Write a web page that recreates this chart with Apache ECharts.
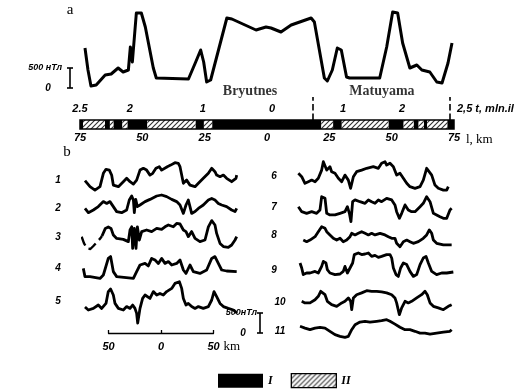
<!DOCTYPE html>
<html>
<head>
<meta charset="utf-8">
<script src="https://cdn.jsdelivr.net/npm/echarts@6/dist/echarts.min.js"></script>
<style>
  html, body { margin: 0; padding: 0; background: #fff; }
  #chart { width: 527px; height: 391px; }
</style>
</head>
<body>
<div id="chart"></div>
<script>
// ---- data (km along profile, anomaly in nT) ----
const profileA = [[-73.0,1000],[-71.8,450],[-70.6,50],[-68.5,75],[-64.9,325],[-62.5,350],[-59.7,500],[-57.7,400],[-55.6,450],[-54.8,1025],[-54.0,650],[-52.4,1875],[-50.4,1875],[-48.8,1525],[-45.6,500],[-44.4,250],[-31.5,225],[-28.6,650],[-26.6,950],[-25.4,650],[-24.2,150],[-22.6,200],[-16.1,1750],[-14.1,1725],[-4.4,1450],[-0.4,1525],[1.6,1500],[5.6,1400],[9.7,1575],[17.7,1750],[19.0,1650],[23.0,250],[24.2,175],[26.2,450],[28.2,1000],[29.8,950],[31.9,275],[33.1,250],[45.2,250],[48.0,1025],[50.4,1900],[52.4,1875],[54.4,1125],[57.3,500],[60.1,575],[62.1,450],[65.3,400],[68.1,150],[70.2,125],[72.6,625],[74.2,1125]];

const profile1 = [[-72.4,275],[-67.6,125],[-62.9,40],[-58.1,125],[-54.9,460],[-52.4,560],[-49.2,540],[-47.0,415],[-45.4,165],[-40.6,125],[-35.9,250],[-32.7,335],[-29.5,250],[-26.3,190],[-23.2,290],[-20.0,540],[-16.8,585],[-13.7,540],[-10.5,415],[-7.9,460],[-4.8,585],[-1.6,625],[0.6,540],[2.2,585],[6.0,625],[9.2,665],[13.3,725],[16.5,710],[18.1,625],[21.3,210],[24.4,290],[27.6,165],[32.4,125],[35.6,210],[40.3,335],[45.1,460],[48.3,585],[51.4,500],[53.0,415],[56.2,375],[59.4,415],[62.5,335],[67.3,250],[71.4,335],[72.1,415]];
const profile2 = [[-72.4,165],[-69.2,58],[-64.4,125],[-59.7,210],[-54.9,335],[-51.7,290],[-48.6,335],[-45.4,210],[-42.2,85],[-37.5,58],[-32.7,125],[-30.2,375],[-27.9,475],[-26.3,375],[-25.4,58],[-24.1,390],[-22.5,210],[-20.0,250],[-15.2,335],[-10.5,390],[-4.1,475],[0.6,500],[5.4,460],[10.2,390],[14.9,335],[18.1,250],[21.3,40],[23.8,250],[26.0,375],[27.6,210],[29.2,40],[32.4,85],[35.6,165],[40.3,250],[45.1,375],[48.3,415],[51.4,375],[54.6,290],[57.8,250],[62.5,210],[67.3,125],[70.5,85],[72.1,165]];
const profile3Dashed = [[-75.6,333],[-73.3,166],[-70.5,42],[-67.3,25],[-64.4,100],[-61.3,190],[-57.8,290],[-56.2,350]];
const profile3 = [[-56.2,350],[-53.0,540],[-50.2,575],[-47.6,540],[-45.4,375],[-42.2,290],[-35.9,265],[-31.1,210],[-29.5,500],[-27.9,580],[-27.0,40],[-25.4,540],[-23.8,40],[-22.5,580],[-20.6,250],[-18.4,460],[-13.7,500],[-8.9,460],[-4.1,540],[0.6,515],[3.8,580],[7.0,625],[11.7,580],[14.9,665],[18.1,650],[21.3,500],[23.8,460],[26.0,335],[29.2,460],[32.4,290],[37.1,210],[41.9,250],[45.1,580],[48.3,735],[51.4,625],[53.0,415],[56.2,165],[59.4,85],[64.1,65],[67.3,125],[70.5,250],[72.1,333]];
const profile4 = [[-74.0,290],[-72.4,85],[-67.6,85],[-58.1,40],[-54.9,125],[-50.2,540],[-48.0,585],[-45.4,210],[-42.2,85],[-26.3,40],[-23.2,210],[-20.0,375],[-15.2,415],[-12.1,350],[-8.9,540],[-5.7,500],[-2.5,415],[0.6,540],[3.8,415],[7.0,460],[10.2,375],[14.9,415],[18.1,500],[19.7,460],[21.3,250],[23.8,165],[27.6,375],[30.8,210],[37.1,165],[43.5,250],[48.3,540],[51.4,585],[54.6,415],[57.8,250],[62.5,225],[72.1,210]];
const profile5 = [[-72.4,450],[-69.2,375],[-64.4,415],[-59.7,500],[-56.5,415],[-52.4,540],[-50.2,835],[-48.0,900],[-45.4,750],[-43.8,540],[-40.6,415],[-35.9,375],[-32.7,460],[-29.5,415],[-27.0,500],[-24.8,415],[-23.2,290],[-22.2,50],[-20.0,415],[-17.5,665],[-15.2,750],[-10.5,665],[-7.3,835],[-4.1,750],[-1.0,790],[2.2,750],[5.4,835],[10.2,915],[13.3,1040],[17.5,1080],[19.7,915],[21.3,665],[23.8,500],[26.0,540],[29.2,460],[32.4,415],[35.6,460],[40.3,415],[45.1,460],[48.3,625],[50.5,835],[53.0,710],[56.2,540],[59.4,460],[64.1,415],[68.9,375],[72.4,300]];
const profile6 = [[-73.0,460],[-69.8,375],[-66.7,210],[-63.5,250],[-60.3,290],[-57.1,250],[-54.0,335],[-50.8,540],[-49.2,750],[-47.6,710],[-46.0,540],[-42.9,625],[-41.3,500],[-38.1,460],[-34.9,335],[-31.7,250],[-28.6,415],[-27.0,460],[-25.4,290],[-23.2,85],[-20.6,375],[-17.5,500],[-12.7,540],[-7.9,585],[-1.6,625],[3.2,585],[6.3,710],[9.5,750],[11.1,665],[14.3,710],[17.5,625],[20.6,415],[23.8,460],[27.0,335],[30.2,210],[33.3,125],[38.1,85],[42.9,125],[46.0,290],[49.2,585],[50.8,625],[54.0,415],[57.1,165],[60.3,85],[65.1,40],[68.3,40],[69.8,125]];
const profile7 = [[-73.0,415],[-69.8,290],[-65.1,250],[-60.3,290],[-55.6,250],[-52.4,335],[-50.8,665],[-49.2,710],[-47.6,625],[-46.0,250],[-42.9,210],[-38.1,210],[-33.3,250],[-28.6,290],[-26.3,415],[-24.4,250],[-22.9,40],[-21.3,540],[-19.0,585],[-14.3,540],[-9.5,500],[-6.3,585],[-3.2,540],[0.0,500],[3.2,585],[6.3,540],[11.1,625],[15.9,585],[19.0,460],[20.6,290],[23.2,125],[25.4,250],[28.6,460],[31.7,335],[34.9,290],[38.1,290],[42.9,415],[46.0,500],[49.2,665],[50.8,710],[52.4,540],[55.6,250],[58.7,210],[61.9,165],[65.1,125],[68.3,125],[71.4,335],[73.0,375]];
const profile8 = [[-68.3,180],[-65.1,140],[-61.9,180],[-57.1,265],[-54.0,390],[-50.8,515],[-49.2,560],[-47.6,475],[-46.0,390],[-42.9,310],[-39.7,225],[-36.5,180],[-33.3,225],[-30.2,140],[-27.0,180],[-23.8,265],[-22.2,350],[-19.0,310],[-15.9,350],[-12.7,390],[-9.5,350],[-6.3,310],[-3.2,350],[0.0,310],[4.8,350],[9.5,310],[12.7,265],[15.9,225],[19.0,225],[20.6,100],[23.8,15],[27.0,140],[30.2,180],[33.3,140],[36.5,100],[41.3,140],[46.0,225],[49.2,310],[51.7,435],[54.0,350],[55.6,180],[58.7,100],[65.1,60],[71.4,60],[73.0,60]];
const profile9 = [[-71.4,375],[-69.8,250],[-68.3,85],[-65.1,125],[-61.9,125],[-57.1,165],[-54.0,125],[-50.8,290],[-49.2,415],[-46.7,375],[-45.4,210],[-42.9,125],[-38.1,85],[-33.3,100],[-30.2,165],[-28.6,290],[-26.3,125],[-23.8,250],[-21.3,375],[-19.7,585],[-15.9,625],[-12.7,585],[-9.5,600],[-6.3,625],[-3.2,540],[0.0,565],[3.2,515],[6.3,540],[11.1,585],[14.3,585],[15.9,500],[17.5,250],[20.0,85],[22.2,40],[24.4,250],[27.0,375],[30.2,335],[33.3,165],[36.5,40],[39.7,85],[42.9,335],[46.0,500],[48.6,540],[50.8,375],[54.0,165],[58.7,85],[63.5,125],[68.3,125],[74.6,150]];
const profile10 = [[-69.8,375],[-66.7,335],[-61.9,335],[-57.1,415],[-54.0,500],[-51.7,625],[-49.8,665],[-47.6,540],[-45.4,375],[-41.3,290],[-36.5,250],[-31.7,335],[-28.6,375],[-25.4,460],[-23.2,375],[-22.2,165],[-20.6,460],[-17.5,540],[-12.7,585],[-7.9,640],[-3.2,625],[1.6,625],[6.3,610],[11.1,585],[15.9,540],[19.0,460],[20.6,335],[23.2,40],[25.4,210],[28.6,375],[31.7,335],[34.9,375],[39.7,460],[44.4,540],[47.6,625],[49.8,540],[52.4,335],[55.6,250],[60.3,210],[65.1,165],[69.8,250],[73.0,290]];
const profile11 = [[-71.4,335],[-66.7,290],[-61.9,250],[-57.1,290],[-52.4,310],[-47.6,290],[-42.9,210],[-38.1,125],[-33.3,85],[-28.6,60],[-25.4,85],[-22.2,250],[-19.0,375],[-14.3,440],[-9.5,460],[-4.8,440],[1.6,460],[6.3,475],[11.1,500],[14.3,460],[19.0,390],[23.8,310],[28.6,250],[33.3,250],[38.1,210],[42.9,165],[47.6,165],[52.4,140],[58.7,165],[65.1,190],[71.4,210],[73.0,250]];

// polarity blocks along the profile, km
const normalBlocks = [[-75,-73.8],[-65,-63],[-61.6,-58],[-56,-48],[-28.7,-25.3],[-22,21.8],[26.5,30],[48.7,54.8],[58.8,60.8],[62.9,64.2],[72.3,75]];
const reversedBlocks = [[-73.8,-65],[-63,-61.6],[-58,-56],[-48,-28.7],[-25.3,-22],[21.8,26.5],[30,48.7],[54.8,58.8],[60.8,62.9],[64.2,72.3]];

// age scale (Ma) positioned on the km axis
const ageTickKm = [-75, -55, -25.7, 2, 30.5, 54.2];
const ageTickLabels = ['2.5', '2', '1', '0', '1', '2'];
const epochs = [{ name: 'Bryutnes', km: -6.8 }, { name: 'Matuyama', km: 46.1 }];
const boundaryKm = [18.4, 73.4];

// ---- layout ----
const rows = [
  { label: '1', data: profile1, col: 0, base: 191.7, labelY: 180 },
  { label: '2', data: profile2, col: 0, base: 215, labelY: 208 },
  { label: '3', data: profile3, dashed: profile3Dashed, col: 0, base: 250, labelY: 237 },
  { label: '4', data: profile4, col: 0, base: 280, labelY: 268 },
  { label: '5', data: profile5, col: 0, base: 325, labelY: 301 },
  { label: '6', data: profile6, col: 1, base: 191.7, labelY: 176 },
  { label: '7', data: profile7, col: 1, base: 223.3, labelY: 207 },
  { label: '8', data: profile8, col: 1, base: 247.3, labelY: 235 },
  { label: '9', data: profile9, col: 1, base: 278, labelY: 270 },
  { label: '10', data: profile10, col: 1, base: 316.3, labelY: 302 },
  { label: '11', data: profile11, col: 1, base: 339.7, labelY: 331 }
];
const colLeft = [82.25, 296.25];
const colWidth = 157.5;
const colLabelX = [58, 274];

const numFont = { color: '#000', fontFamily: '"Liberation Sans", sans-serif', fontStyle: 'italic', fontWeight: 'bold', fontSize: 11 };
const serifFont = { color: '#000', fontFamily: '"Liberation Serif", serif', fontWeight: 'bold', fontSize: 14 };

function makeHatch() {
  const c = document.createElement('canvas');
  c.width = 5; c.height = 5;
  const ctx = c.getContext('2d');
  ctx.fillStyle = '#fff';
  ctx.fillRect(0, 0, 5, 5);
  ctx.strokeStyle = '#333';
  ctx.lineWidth = 1.1;
  ctx.beginPath();
  ctx.moveTo(0, 5); ctx.lineTo(5, 0);
  ctx.moveTo(-1, 1); ctx.lineTo(1, -1);
  ctx.moveTo(4, 6); ctx.lineTo(6, 4);
  ctx.stroke();
  return c;
}
const hatch = { image: makeHatch(), repeat: 'repeat' };

// one grid per strip; xAxis/yAxis index equals grid index,
// extra axes are appended after all grids
const grids = [], xAxes = [], yAxes = [], extraXAxes = [], series = [];
function addGrid(g, xMin, xMax, yMax) {
  const idx = grids.length;
  grids.push(Object.assign({ containLabel: false }, g));
  xAxes.push({ gridIndex: idx, type: 'value', min: xMin, max: xMax, show: false, splitLine: { show: false } });
  yAxes.push({ gridIndex: idx, type: 'value', min: 0, max: yMax, show: false, splitLine: { show: false } });
  return idx;
}
function lineSeries(data, axisIdx, width, dashed) {
  return {
    type: 'line', data: data, xAxisIndex: axisIdx, yAxisIndex: axisIdx,
    symbol: 'none', showSymbol: false, clip: false, animation: false, silent: true,
    lineStyle: { color: '#000', width: width, type: dashed ? 'dashed' : 'solid', join: 'round' }
  };
}
function blockRenderer(fill) {
  return function (params, api) {
    const a = api.coord([api.value(0), 1]);
    const b = api.coord([api.value(1), 0]);
    return { type: 'rect', shape: { x: a[0], y: a[1], width: b[0] - a[0], height: b[1] - a[1] }, style: { fill: fill } };
  };
}

// panel a: profile
const gA = addGrid({ left: 80, width: 374, top: 8, height: 80 }, -75, 75, 2000);
series.push(lineSeries(profileA, gA, 3));

// epoch names + boundary dashes
const gE = addGrid({ left: 80, width: 374, top: 84, height: 36 }, -75, 75, 36);
series.push({
  type: 'scatter', xAxisIndex: gE, yAxisIndex: gE, symbolSize: 1, silent: true, animation: false,
  itemStyle: { color: 'rgba(0,0,0,0)' },
  data: epochs.map(e => ({ name: e.name, value: [e.km, 29] })),
  label: Object.assign({ show: true, position: 'inside', formatter: '{b}' }, serifFont),
  markLine: {
    symbol: 'none', silent: true, animation: false, label: { show: false },
    lineStyle: { color: '#000', width: 1.6, type: 'dashed' },
    data: boundaryKm.map(k => [{ coord: [k, 0] }, { coord: [k, 23] }])
  }
});

// polarity bar with km and age axes
const gB = addGrid({ left: 80, width: 374, top: 120, height: 9, show: true, z: 5, borderColor: '#000', borderWidth: 1.5, backgroundColor: 'transparent' }, -75, 75, 1);
Object.assign(xAxes[gB], {
  show: true, interval: 25,
  axisLine: { show: false }, axisTick: { show: false },
  axisLabel: Object.assign({ show: true, margin: 3, showMinLabel: true, showMaxLabel: true, formatter: v => String(Math.abs(v)) }, numFont),
  name: 'l, km', nameLocation: 'end', nameGap: 12,
  nameTextStyle: Object.assign({}, serifFont, { fontWeight: 'normal', fontSize: 13, verticalAlign: 'top', padding: [4, 0, 0, 0] })
});
extraXAxes.push({
  gridIndex: gB, type: 'value', position: 'top', min: -75, max: 75, show: true,
  splitLine: { show: false }, axisLine: { show: false }, axisTick: { show: false },
  axisLabel: Object.assign({
    show: true, margin: 6, customValues: ageTickKm,
    formatter: v => {
      let best = 0;
      ageTickKm.forEach((k, i) => { if (Math.abs(k - v) < Math.abs(ageTickKm[best] - v)) best = i; });
      return ageTickLabels[best];
    }
  }, numFont),
  name: '2,5 t, mln.il', nameLocation: 'end', nameGap: 3,
  nameTextStyle: Object.assign({}, numFont, { verticalAlign: 'bottom', padding: [0, 0, 6, 0] })
});
series.push({
  type: 'custom', name: 'I', xAxisIndex: gB, yAxisIndex: gB,
  data: normalBlocks.map(b => [b[0], b[1], 0]),
  encode: { x: [0, 1], y: 2 }, renderItem: blockRenderer('#000'), itemStyle: { color: '#000' }, animation: false, silent: true
});
series.push({
  type: 'custom', name: 'II', xAxisIndex: gB, yAxisIndex: gB,
  data: reversedBlocks.map(b => [b[0], b[1], 0]),
  encode: { x: [0, 1], y: 2 }, renderItem: blockRenderer(hatch), itemStyle: { color: hatch }, animation: false, silent: true
});

// panel b: profiles
const rowGrids = rows.map(r => {
  const g = addGrid({ left: colLeft[r.col], width: colWidth, top: r.base - 48, height: 48 }, -75, 75, 1200);
  if (r.dashed) series.push(lineSeries(r.dashed, g, 2.4, true));
  series.push(lineSeries(r.data, g, 2.8));
  return g;
});

// distance scale of panel b
const gS = addGrid({ left: 108.5, width: 105, top: 318, height: 15 }, -50, 50, 1);
Object.assign(xAxes[gS], {
  show: true, interval: 50,
  axisLine: { show: true, lineStyle: { color: '#000', width: 1.3 } },
  axisTick: { show: true, inside: true, length: 3, lineStyle: { color: '#000', width: 1.3 } },
  axisLabel: Object.assign({ show: true, margin: 8, showMinLabel: true, showMaxLabel: true, formatter: v => String(Math.abs(v)) }, numFont),
  name: 'km', nameLocation: 'end', nameGap: 9,
  nameTextStyle: Object.assign({}, serifFont, { fontWeight: 'normal', fontSize: 13, verticalAlign: 'top', padding: [7, 0, 0, 0] })
});

const option = {
  backgroundColor: '#fff',
  animation: false,
  grid: grids,
  xAxis: xAxes.concat(extraXAxes),
  yAxis: yAxes,
  legend: {
    left: 213, top: 368, itemWidth: 45, itemHeight: 14, itemGap: 18, icon: 'rect',
    selectedMode: false,
    textStyle: Object.assign({}, serifFont, { fontStyle: 'italic', fontSize: 12 }),
    data: [
      { name: 'I', itemStyle: { color: '#000' } },
      { name: 'II', itemStyle: { color: hatch, borderColor: '#000', borderWidth: 1.3 } }
    ]
  },
  series: series
};

const chart = echarts.init(document.getElementById('chart'));
chart.setOption(option);

// nT scale bars and text labels
function nTBar(x, y0, y500, label, labelX, zeroX) {
  return [
    { type: 'line', shape: { x1: x, y1: y500, x2: x, y2: y0 }, style: { stroke: '#000', lineWidth: 1.6 } },
    { type: 'line', shape: { x1: x - 3, y1: y500, x2: x + 3, y2: y500 }, style: { stroke: '#000', lineWidth: 1.6 } },
    { type: 'line', shape: { x1: x - 3, y1: y0, x2: x + 3, y2: y0 }, style: { stroke: '#000', lineWidth: 1.6 } },
    { type: 'text', x: labelX, y: y500, style: { text: label, align: 'right', verticalAlign: 'middle', fill: '#000', font: 'italic bold 9px "Liberation Sans"' } },
    { type: 'text', x: zeroX, y: y0, style: { text: '0', align: 'center', verticalAlign: 'middle', fill: '#000', font: 'italic bold 10px "Liberation Sans"' } }
  ];
}
const a0 = chart.convertToPixel({ yAxisIndex: gA }, 0);
const a500 = chart.convertToPixel({ yAxisIndex: gA }, 500);
const lastRow = rowGrids[rowGrids.length - 1];
const bStep = chart.convertToPixel({ yAxisIndex: lastRow }, 0) - chart.convertToPixel({ yAxisIndex: lastRow }, 500);

const graphic = []
  .concat(nTBar(70, a0, a500, '500 нТл', 62, 48))
  .concat(nTBar(260, 333, 333 - bStep, '500нТл', 257, 243))
  .concat([
    { type: 'text', x: 70, y: 10, style: { text: 'a', align: 'center', verticalAlign: 'middle', fill: '#000', font: '15px "Liberation Serif"' } },
    { type: 'text', x: 67, y: 152, style: { text: 'b', align: 'center', verticalAlign: 'middle', fill: '#000', font: '15px "Liberation Serif"' } }
  ])
  .concat(rows.map(r => ({
    type: 'text', x: colLabelX[r.col] + (r.label.length > 1 ? 6 : 0), y: r.labelY,
    style: { text: r.label, align: 'center', verticalAlign: 'middle', fill: '#000', font: 'italic bold 10px "Liberation Sans"' }
  })));
chart.setOption({ graphic: graphic });
</script>
</body>
</html>
